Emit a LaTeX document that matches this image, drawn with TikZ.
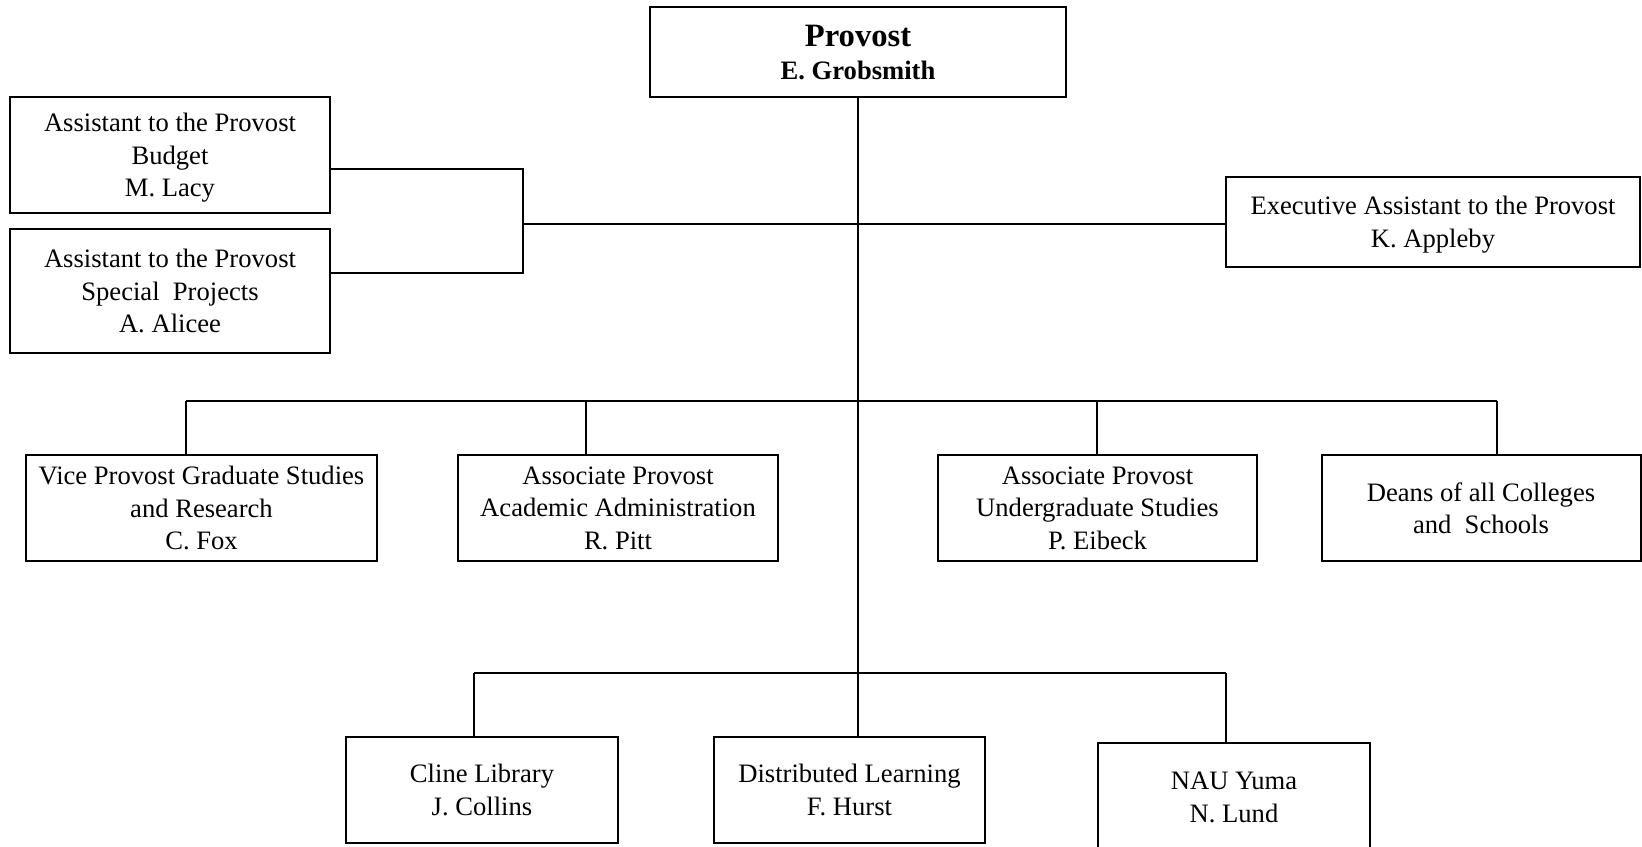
\documentclass[tikz,border=0pt]{standalone}
\usepackage{fontspec}
\setmainfont{Liberation Serif}
\usetikzlibrary{calc}
\def\px{0.5pt}
\tikzstyle{office} =
  [ rectangle
  , draw
  , line width=1pt
  , align=center
  , inner sep=0pt
  , text depth=0pt
  , font=\fontsize{13.3}{16.3}\selectfont
  ]
\tikzstyle{head} =
  [ office
  , font=\fontsize{13.3}{16.5}\selectfont\bfseries
  ]
\tikzstyle{link} =
  [ line width=0.8pt
  ]
\tikzset{boxsize/.style 2 args={minimum width=#1*\px, minimum height=#2*\px}}
\def\AsstProvost{Assistant to the Provost}
\def\AssocProvost{Associate Provost}

\begin{document}
\begin{tikzpicture}[x=0.5pt, y=-0.5pt]
    \useasboundingbox (0,0) rectangle (1642,846);

    \node[head,   boxsize={416}{90}]  (provost)  at (858, 52)    {{\fontsize{16.3}{16.5}\selectfont Provost}\\E. Grobsmith};
    \node[office, boxsize={320}{116}] (budget)   at (170, 155)   {\AsstProvost\\Budget\\M. Lacy};
    \node[office, boxsize={320}{124}] (special)  at (170, 291)   {\AsstProvost\\Special~ Projects\\A. Alicee};
    \node[office, boxsize={414}{90}]  (exec)     at (1433, 222)  {Executive \AsstProvost\\K. Appleby};

    \node[office, boxsize={351}{106}] (vp_grad)  at (201.5, 508) {Vice Provost Graduate Studies\\and Research\\C. Fox};
    \node[office, boxsize={320}{106}] (ap_acad)  at (618, 508)   {\AssocProvost\\Academic Administration\\R. Pitt};
    \node[office, boxsize={319}{106}] (ap_under) at (1097.5, 508) {\AssocProvost\\Undergraduate Studies\\P. Eibeck};
    \node[office, boxsize={319}{106}] (deans)    at (1481, 508)  {Deans of all Colleges\\and~ Schools};

    \node[office, boxsize={272}{106}] (cline)    at (482, 790)   {Cline Library\\J. Collins};
    \node[office, boxsize={271}{106}] (dist)     at (849.5, 790) {Distributed Learning\\F. Hurst};
    \node[office, boxsize={272}{108}] (yuma)     at (1234, 797)  {NAU Yuma\\N. Lund};

    % joints of the lines
    \coordinate (asst_top)   at (523, 169);
    \coordinate (asst_mid)   at (523, 224);
    \coordinate (asst_bot)   at (523, 273);
    \coordinate (drop_grad)  at (186, 401);
    \coordinate (drop_acad)  at (586, 401);
    \coordinate (drop_under) at (1097, 401);
    \coordinate (drop_deans) at (1497, 401);
    \coordinate (drop_cline) at (474, 673);
    \coordinate (drop_yuma)  at (1226, 673);

    \draw[link] (provost.south) -- (provost.south |- dist.north);
    \draw[link] (budget.east |- asst_top) -- (asst_top) -- (asst_bot) -- (special.east |- asst_bot);
    \draw[link] (asst_mid) -- (exec.west |- asst_mid);

    \draw[link] (drop_grad) -- (drop_deans);
    \foreach \d/\n in {drop_grad/vp_grad, drop_acad/ap_acad, drop_under/ap_under, drop_deans/deans}
      \draw[link] (\d) -- (\d |- \n.north);

    \draw[link] (drop_cline) -- (drop_yuma);
    \draw[link] (drop_cline) -- (drop_cline |- cline.north);
    \draw[link] (drop_yuma)  -- (drop_yuma |- yuma.north);
\end{tikzpicture}
\end{document}
